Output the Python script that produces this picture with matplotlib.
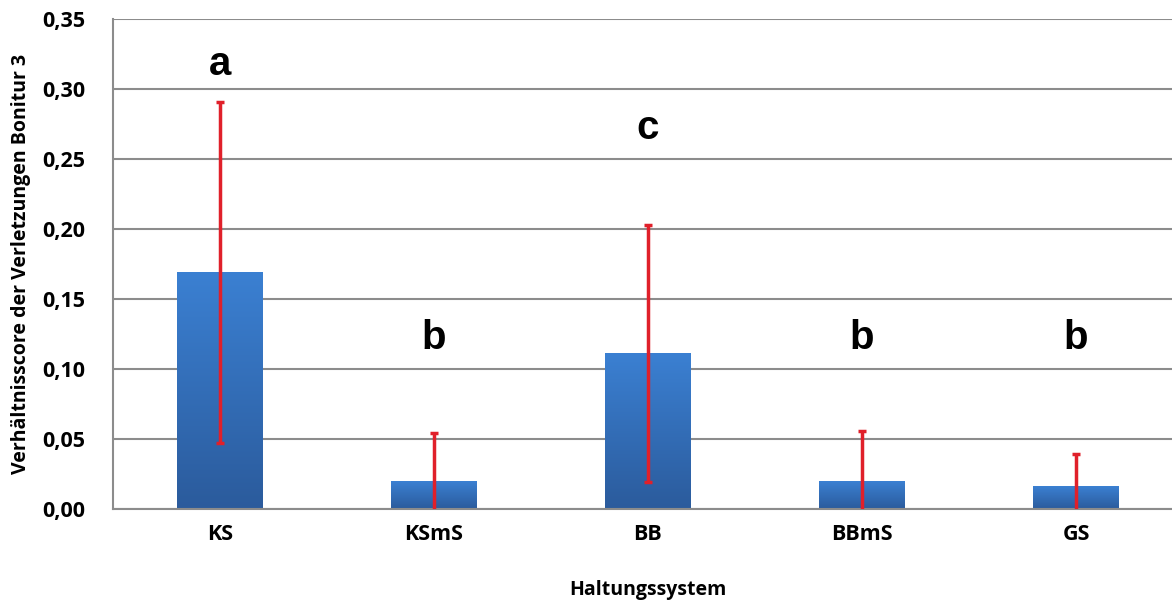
import numpy as np
import matplotlib
matplotlib.use("Agg")
import matplotlib.pyplot as plt
from matplotlib.ticker import FuncFormatter, MultipleLocator
from matplotlib.colors import LinearSegmentedColormap

categories = ["KS", "KSmS", "BB", "BBmS", "GS"]
means = [0.169, 0.020, 0.111, 0.020, 0.016]
errors = [0.122, 0.034, 0.092, 0.036, 0.023]
letters = ["a", "b", "c", "b", "b"]
letter_y = [0.318, 0.122, 0.272, 0.122, 0.122]

plt.rcParams['font.family'] = ['Open Sans', 'DejaVu Sans']

fig = plt.figure(figsize=(11.72, 6.01), dpi=100)
ax = fig.add_axes([0.0964, 0.1531, 0.913, 0.8153])

x = np.arange(len(categories))
bars = ax.bar(x, means, width=0.4, color="#3470c0", zorder=2)

# gradient fill for each bar, top lighter, bottom darker
cmap = LinearSegmentedColormap.from_list("bar", ["#2b5b9c", "#3b80d2"])
grad = np.linspace(0, 1, 256).reshape(-1, 1)
for b in bars:
    b.set_facecolor("none")
    ax.imshow(grad, cmap=cmap, aspect="auto", origin="lower", zorder=2,
              extent=[b.get_x(), b.get_x() + b.get_width(), 0, b.get_height()])

ax.errorbar(x, means, yerr=errors, fmt="none", ecolor="#e0202a",
            elinewidth=2.5, capsize=3, capthick=2.5, zorder=3)

for xi, lt, ly in zip(x, letters, letter_y):
    ax.text(xi, ly, lt, ha="center", va="center", fontsize=29,
            fontweight="bold", family="Liberation Sans")

ax.set_xlim(-0.5, len(categories) - 0.5)
ax.set_ylim(0, 0.35)
ax.yaxis.set_major_locator(MultipleLocator(0.05))
ax.yaxis.set_major_formatter(FuncFormatter(lambda v, p: f"{v:.2f}".replace(".", ",")))
ax.set_xticks(x)
ax.set_xticklabels(categories)
ax.grid(axis="y", color="#8c8c8c", linewidth=1.5, zorder=0)
ax.set_axisbelow(True)
for s in ["top", "right"]:
    ax.spines[s].set_visible(False)
for s in ["left", "bottom"]:
    ax.spines[s].set_color("#8c8c8c")
    ax.spines[s].set_linewidth(1.5)
ax.tick_params(axis="both", length=0, labelsize=15.5)
ax.tick_params(axis="x", pad=11)
ax.tick_params(axis="y", pad=20)
for t in ax.get_xticklabels() + ax.get_yticklabels():
    t.set_fontweight("bold")

ax.set_ylabel("Verhältnisscore der Verletzungen Bonitur 3", fontsize=14,
              fontweight="bold", labelpad=8)
ax.set_xlabel("Haltungssystem", fontsize=14, fontweight="bold", labelpad=25)

fig.savefig("out.png", dpi=100)
